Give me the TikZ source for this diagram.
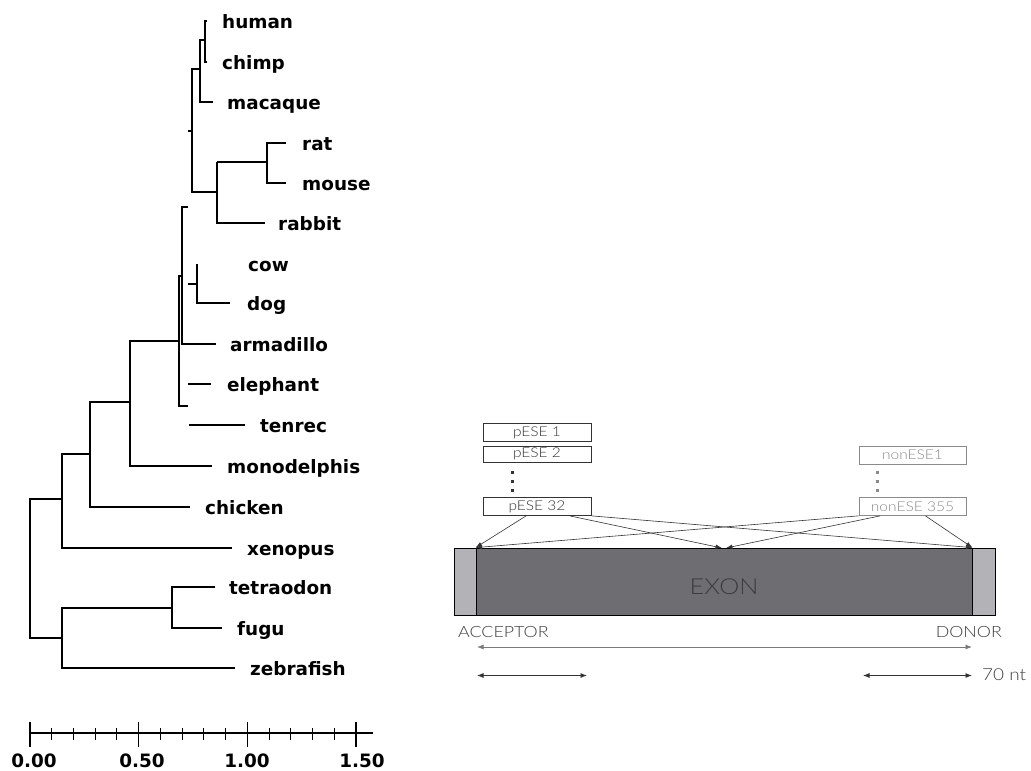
\documentclass[tikz,border=0pt]{standalone}
\usepackage{fontspec}
\usetikzlibrary{arrows.meta,calc}
\newfontfamily\treefont{DejaVu Sans}
\IfFontExistsTF{Lato Light}{\newfontfamily\thinfont[FakeStretch=1.15]{Lato Light}}{\newfontfamily\thinfont[FakeStretch=1.15]{Lato}}
\definecolor{accgrey}{HTML}{B3B3B7}
\definecolor{exongrey}{HTML}{6E6E72}
\definecolor{exontext}{HTML}{3C3C3E}
\definecolor{darkline}{HTML}{333333}
\definecolor{lightline}{HTML}{8A8A8A}
\definecolor{longarrow}{HTML}{7A7A7A}
\begin{document}
\begin{tikzpicture}[x=1pt,y=-1pt,
  tree/.style={line width=1.3pt, black},
  leaf/.style={anchor=base west, inner sep=0pt, font=\treefont\bfseries\fontsize{18.4}{20}\selectfont},
  scalelab/.style={anchor=base, inner sep=0pt, font=\treefont\bfseries\fontsize{18.4}{20}\selectfont},
  esebox/.style={draw=darkline, line width=0.7pt, minimum width=108pt, minimum height=18pt, inner sep=0pt, text=darkline, font=\thinfont\fontsize{13.5}{14}\selectfont},
  nonbox/.style={draw=lightline, line width=0.7pt, minimum width=107pt, minimum height=18pt, inner sep=0pt, text=lightline, font=\thinfont\fontsize{13.5}{14}\selectfont},
  conn/.style={draw=darkline, line width=0.6pt, -{Latex[length=6.5pt,width=4.5pt]}},
  dimarrow/.style={line width=0.8pt, {Latex[length=6.5pt,width=5pt]}-{Latex[length=6.5pt,width=5pt]}},
  endbox/.style={draw=black, line width=0.8pt, fill=accgrey, minimum height=67pt, inner sep=0pt},
  sitelab/.style={inner sep=0pt, text=exontext, font=\thinfont\fontsize{15.5}{17}\selectfont}
]
\useasboundingbox (0,0) rectangle (1031,771);

% ---------------- tree ----------------
\draw[tree] (207,21) -- (205,21) -- (205,62) -- (207,62);
\draw[tree] (205,40) -- (200,40) -- (200,102) -- (213,102);
\draw[tree] (200,69) -- (192,69) -- (192,192) -- (217,192);
\draw[tree] (188,131) -- (192,131);
\draw[tree] (217,162) -- (217,223) -- (265,223);
\draw[tree] (217,162) -- (267,162);
\draw[tree] (286,143) -- (267,143) -- (267,183) -- (286,183);
\draw[tree] (188,207) -- (182,207) -- (182,344) -- (216,344);
\draw[tree] (182,276) -- (179,276) -- (179,406) -- (188,406);
\draw[tree] (197,264) -- (197,303) -- (230,303);
\draw[tree] (188,284) -- (197,284);
\draw[tree] (188,384) -- (211,384);
\draw[tree] (189,425) -- (245,425);
\draw[tree] (179,341) -- (130,341) -- (130,466) -- (212,466);
\draw[tree] (130,402) -- (90,402) -- (90,507) -- (190,507);
\draw[tree] (90,454) -- (62,454) -- (62,548) -- (232,548);
\draw[tree] (62,499) -- (30,499) -- (30,638) -- (62,638);
\draw[tree] (172,608) -- (62,608) -- (62,668) -- (235,668);
\draw[tree] (215,587) -- (172,587) -- (172,628) -- (222,628);

\node[leaf] (human) at (222,28.5) {human};
\node[leaf] (chimp) at (222,69.5) {chimp};
\node[leaf] (macaque) at (227,109.5) {macaque};
\node[leaf] (rat) at (302,150.5) {rat};
\node[leaf] (mouse) at (302,190.5) {mouse};
\node[leaf] (rabbit) at (278,230.5) {rabbit};
\node[leaf] (cow) at (248,271.5) {cow};
\node[leaf] (dog) at (247,310.5) {dog};
\node[leaf] (armadillo) at (230,351.5) {armadillo};
\node[leaf] (elephant) at (227,391.5) {elephant};
\node[leaf] (tenrec) at (260,432.5) {tenrec};
\node[leaf] (monodelphis) at (227,473.5) {monodelphis};
\node[leaf] (chicken) at (205,514.5) {chicken};
\node[leaf] (xenopus) at (247,555.5) {xenopus};
\node[leaf] (tetraodon) at (229,594.5) {tetraodon};
\node[leaf] (fugu) at (237,635.5) {fugu};
\node[leaf] (zebrafish) at (250,675.5) {zebrafish};

% scale bar
\draw[tree] (30,733) -- (373,733);
\foreach \i in {0,...,15} {
  \draw[line width=1.1pt] ({30+21.733*\i},728) -- ({30+21.733*\i},740);
}
\foreach \i in {0,5,10,15} {
  \draw[line width=1.3pt] ({30+21.733*\i},722) -- ({30+21.733*\i},747);
}
\node[scalelab] (s0) at (34,767) {0.00};
\node[scalelab] (s1) at (142,767) {0.50};
\node[scalelab] (s2) at (247,767) {1.00};
\node[scalelab] (s3) at (362,767) {1.50};

% ---------------- exon diagram ----------------
\node[esebox] (p1) at (537,432.5) {pESE 1};
\node[esebox, minimum height=16pt] (p2) at (537,454) {pESE 2};
\node[esebox] (p32) at (537,506.5) {pESE 32};
\node[nonbox] (n1) at (912.5,455) {nonESE1};
\node[nonbox] (n355) at (912.5,506.5) {nonESE 355};

\foreach \yy in {472,481,490} {
  \fill[darkline] (510.5,\yy-1.5) rectangle +(3,3);
  \fill[lightline] (875.5,\yy-1.5) rectangle +(3,3);
}

\node[draw=black, line width=0.8pt, fill=exongrey, minimum width=496pt, minimum height=67pt, inner sep=0pt] (exon) at (724,581.5) {};
\node[endbox, minimum width=22pt] (acc) at (465,581.5) {};
\node[endbox, minimum width=23pt] (don) at (983.5,581.5) {};
\node[anchor=base, inner sep=0pt, text=exontext, font=\thinfont\fontsize{22}{24}\selectfont] (exonlab) at (724,594) {EXON};

\coordinate (midA) at (722,548);
\coordinate (midB) at (726,548);
\draw[conn] ($(p32.south west)!0.4!(p32.south east)$) -- (exon.north west);
\draw[conn] ($(p32.south west)!0.8!(p32.south east)$) -- (midA);
\draw[conn] (p32.south east) -- (exon.north east);
\draw[conn] (n355.south west) -- (exon.north west);
\draw[conn] ($(n355.south west)!0.2!(n355.south east)$) -- (midB);
\draw[conn] ($(n355.south west)!0.62!(n355.south east)$) -- (exon.north east);

\node[sitelab, anchor=base west] (acclab) at (458,637) {ACCEPTOR};
\node[sitelab, anchor=base east] (donlab) at (1002,637) {DONOR};

\coordinate (la) at (477,647);
\coordinate (lb) at (972,647);
\coordinate (sa) at (477,675.5);
\coordinate (sb) at (587,675.5);
\coordinate (sc) at (863,675.5);
\coordinate (sd) at (972,675.5);
\draw[dimarrow, draw=longarrow] (la) -- (lb);
\draw[dimarrow, draw=darkline] (sa) -- (sb);
\draw[dimarrow, draw=darkline] (sc) -- (sd);
\node[anchor=base west, inner sep=0pt, text=exontext, font=\thinfont\fontsize{16.5}{18}\selectfont] (nt) at (982,680) {70 nt};
\end{tikzpicture}
\end{document}
